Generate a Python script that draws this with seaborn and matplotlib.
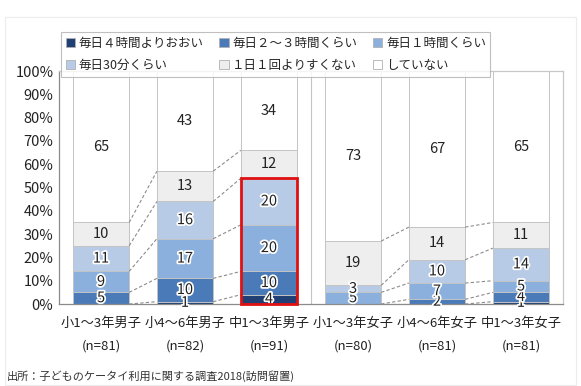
import seaborn as sns
import matplotlib.pyplot as plt
import matplotlib.patches as mpatches
import matplotlib.patheffects as pe
import numpy as np
import pandas as pd

# categories (x axis)
groups = ["小1～3年男子", "小4～6年男子", "中1～3年男子", "小1～3年女子", "小4～6年女子", "中1～3年女子"]
ns = ["(n=81)", "(n=82)", "(n=91)", "(n=80)", "(n=81)", "(n=81)"]

# answer categories, bottom to top
answers = ["毎日４時間よりおおい", "毎日２～３時間くらい", "毎日１時間くらい",
           "毎日30分くらい", "１日１回よりすくない", "していない"]
colors = ["#1f3f75", "#4a7ab8", "#8cb0de", "#b7cbe7", "#eeeeee", "#ffffff"]

# percentages per answer (one value per group)
over4h = [0, 1, 4, 0, 0, 1]
h2to3 = [5, 10, 10, 0, 2, 4]
h1 = [9, 17, 20, 5, 7, 5]
min30 = [11, 16, 20, 3, 10, 14]
lessdaily = [10, 13, 12, 19, 14, 11]
never = [65, 43, 34, 73, 67, 65]

values = np.array([over4h, h2to3, h1, min30, lessdaily, never])
cum = values.cumsum(axis=0)

sns.set_style("white")
plt.rcParams['font.family'] = ['Noto Sans CJK JP', 'DejaVu Sans']

fig = plt.figure(figsize=(5.81, 3.86), dpi=100)
ax = fig.add_axes([0.1016, 0.2124, 0.8674, 0.6036])

labels = [g + "\n" + n for g, n in zip(groups, ns)]
w = 0.67

# stacked bars: draw cumulative totals from the top layer down
for k in range(len(answers) - 1, -1, -1):
    df = pd.DataFrame({'g': labels, 'v': cum[k]})
    sns.barplot(data=df, x='g', y='v', color=colors[k], saturation=1,
                width=w, edgecolor="#c4c4c4", linewidth=0.7, ax=ax, zorder=2)

# value labels
for k in range(len(answers)):
    for i in range(len(groups)):
        v = values[k, i]
        if v <= 0:
            continue
        y = cum[k, i] - v / 2
        t = ax.text(i, y, str(v), ha='center', va='center', fontsize=10.5,
                    color="#222222", zorder=5)
        if k < 4:
            t.set_path_effects([pe.withStroke(linewidth=2.5, foreground='white')])

# dashed connectors between neighbouring bars
for i in [0, 1, 3, 4]:
    for k in range(5):
        ax.plot([i + w / 2, i + 1 - w / 2], [cum[k, i], cum[k, i + 1]],
                ls=(0, (3, 2)), color="#8c8c8c", lw=0.8, zorder=3)

# boys / girls separator
ax.axvline(2.5, color="#c4c4c4", lw=0.8, zorder=1)

# highlight box
ax.add_patch(mpatches.Rectangle((2 - w / 2, 0), w, cum[3, 2], fill=False,
                                edgecolor="#e01010", lw=2, zorder=6, clip_on=False))

ax.set_xlim(-0.5, 5.5)
ax.set_ylim(0, 100)
ax.set_yticks(range(0, 101, 10))
ax.set_yticklabels([f"{v}%" for v in range(0, 101, 10)], fontsize=10.5, color="#222222")
ax.tick_params(axis='x', labelsize=9.5, colors="#222222", pad=9, length=0)
ax.tick_params(axis='y', length=0, pad=4)
for t in ax.get_xticklabels():
    t.set_linespacing(2.0)
ax.set_xlabel("")
ax.set_ylabel("")
for s in ['top', 'right']:
    ax.spines[s].set_color("#c8c8c8")
for s in ['left', 'bottom']:
    ax.spines[s].set_color("#8a8a8a")
for s in ax.spines.values():
    s.set_linewidth(0.9)

# legend
handles = [mpatches.Patch(facecolor=c, edgecolor="#b0b0b0", lw=0.6) for c in colors]
order = [0, 3, 1, 4, 2, 5]
leg = fig.legend([handles[j] for j in order], [answers[j] for j in order],
                 ncol=3, loc='upper left', bbox_to_anchor=(0.0947, 0.83, 0.76, 0.102),
                 mode='expand', fontsize=9, frameon=True, fancybox=False,
                 edgecolor="#b0b0b0", handlelength=0.75, handleheight=0.75,
                 handletextpad=0.3, borderpad=0.35, labelspacing=0.75, columnspacing=1.0)
leg.get_frame().set_linewidth(0.8)

fig.text(0.012, 0.025, "出所：子どものケータイ利用に関する調査2018(訪問留置)",
         fontsize=8, color="#333333", ha='left', va='center')

# faint outer frame
fig.patches.append(mpatches.Rectangle((0.009, 0.003), 0.982, 0.952, transform=fig.transFigure,
                                      fill=False, edgecolor="#ececec", lw=0.8))

fig.savefig("out.png", dpi=100)
